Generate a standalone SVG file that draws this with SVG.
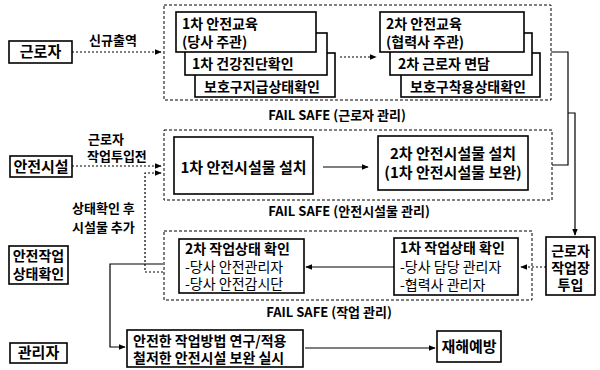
<svg xmlns="http://www.w3.org/2000/svg" width="600" height="370" viewBox="0 0 600 370">
<defs>
<marker id="ah" viewBox="0 0 10 10" refX="9" refY="5" markerWidth="6" markerHeight="6" orient="auto-start-reverse"><path d="M0,1 L10,5 L0,9 z" fill="#000"/></marker>
<style>
.bx{fill:#fff;stroke:#000;stroke-width:1.6}
.ct{fill:none;stroke:#000;stroke-width:1;stroke-dasharray:3,2}
.t{font-family:"Noto Sans CJK KR","Noto Sans",sans-serif;font-weight:700;fill:#000}
.r{font-family:"Noto Sans CJK KR","Noto Sans",sans-serif;font-weight:400;fill:#000}
.s13{font-size:13px}.s14{font-size:14px}.s15{font-size:15px}
.m{text-anchor:middle}
.ln{fill:none;stroke:#000;stroke-width:1.2}
.dl{fill:none;stroke:#000;stroke-width:1.2;stroke-dasharray:2,2}
</style>
</defs>
<rect width="600" height="370" fill="#fff"/>

<g id="connectors">
<path class="dl" d="M72,52 H161" marker-end="url(#ah)"/>
<path class="dl" d="M340,57 H376" marker-end="url(#ah)"/>
<path class="dl" d="M72,166 H161" marker-end="url(#ah)"/>
<path class="dl" d="M163,272 H145 V173 H161" marker-end="url(#ah)"/>
<path class="ln" d="M323,167 H368" marker-end="url(#ah)"/>
<path class="ln" d="M551,52 H568 V165 H552"/>
<path class="ln" d="M568,113 H575 V235" marker-end="url(#ah)"/>
<path class="dl" d="M546,267 H521" marker-end="url(#ah)"/>
<path class="ln" d="M394,267 H306" marker-end="url(#ah)"/>
<path class="ln" d="M163,264 H110 V347 H125" marker-end="url(#ah)"/>
<path class="ln" d="M305,348 H435" marker-end="url(#ah)"/>
</g>

<g id="container-worker">
<rect class="ct" x="164" y="5" width="387" height="95"/>
<text class="t s13 m" x="337" y="120">FAIL SAFE (근로자 관리)</text>
</g>
<g id="container-facility">
<rect class="ct" x="164" y="130" width="388" height="70"/>
<text class="t s13 m" x="349" y="216">FAIL SAFE (안전시설물 관리)</text>
</g>
<g id="container-work">
<rect class="ct" x="164" y="231" width="368" height="69"/>
<text class="t s13 m" x="329" y="317">FAIL SAFE (작업 관리)</text>
</g>

<g id="label-new">
<text class="t s13" x="89" y="45">신규출역</text>
</g>
<g id="label-before">
<text class="t s13" x="88" y="144">근로자</text>
<text class="t s13" x="87" y="161">작업투입전</text>
</g>
<g id="label-add">
<text class="t s13" x="72" y="213">상태확인 후</text>
<text class="t s13" x="72" y="232">시설물 추가</text>
</g>

<g id="worker">
<rect class="bx" x="9" y="41" width="63" height="22"/>
<text class="t s15 m" x="40.5" y="57">근로자</text>
</g>
<g id="facility">
<rect class="bx" x="10" y="156" width="62" height="21"/>
<text class="t s15 m" x="41" y="172">안전시설</text>
</g>
<g id="safe-check">
<rect class="bx" x="9" y="246" width="59" height="38"/>
<text class="t s14 m" x="38.5" y="261">안전작업</text>
<text class="t s14 m" x="38.5" y="279">상태확인</text>
</g>
<g id="manager">
<rect class="bx" x="10" y="343" width="57" height="20"/>
<text class="t s15 m" x="38.5" y="358">관리자</text>
</g>

<g id="ppe1">
<rect class="bx" x="195" y="53" width="140" height="44"/>
<text class="t s14" x="204" y="92">보호구지급상태확인</text>
</g>
<g id="health1">
<rect class="bx" x="185" y="33" width="142" height="42"/>
<text class="t s14" x="192" y="69">1차 건강진단확인</text>
</g>
<g id="edu1">
<rect class="bx" x="176" y="12" width="140" height="40"/>
<text class="t s14" x="182" y="29">1차 안전교육</text>
<text class="t s14" x="182" y="47">(당사 주관)</text>
</g>

<g id="ppe2">
<rect class="bx" x="401" y="53" width="139" height="44"/>
<text class="t s14" x="410" y="92">보호구착용상태확인</text>
</g>
<g id="interview2">
<rect class="bx" x="390" y="33" width="142" height="42"/>
<text class="t s14" x="398" y="69">2차 근로자 면담</text>
</g>
<g id="edu2">
<rect class="bx" x="380" y="12" width="144" height="40"/>
<text class="t s14" x="386" y="29">2차 안전교육</text>
<text class="t s14" x="386" y="47">(협력사 주관)</text>
</g>

<g id="fac1">
<rect class="bx" x="174" y="137" width="139" height="57"/>
<text class="t s15 m" x="243.5" y="173">1차 안전시설물 설치</text>
</g>
<g id="fac2">
<rect class="bx" x="378" y="136" width="150" height="54"/>
<text class="t s15 m" x="453" y="159">2차 안전시설물 설치</text>
<text class="t s15 m" x="453" y="178">(1차 안전시설물 보완)</text>
</g>

<g id="deploy">
<rect class="bx" x="546" y="237" width="49" height="58"/>
<text class="t s14 m" x="570.5" y="256">근로자</text>
<text class="t s14 m" x="570.5" y="273">작업장</text>
<text class="t s14 m" x="570.5" y="290">투입</text>
</g>

<g id="work1">
<rect class="bx" x="394" y="238" width="124" height="57"/>
<text class="t s14" x="400" y="253">1차 작업상태 확인</text>
<text class="r s14" x="400" y="272">-당사 담당 관리자</text>
<text class="r s14" x="400" y="290">-협력사 관리자</text>
</g>
<g id="work2">
<rect class="bx" x="179" y="239" width="125" height="54"/>
<text class="t s14" x="185" y="254">2차 작업상태 확인</text>
<text class="r s14" x="185" y="272">-당사 안전관리자</text>
<text class="r s14" x="185" y="289">-당사 안전감시단</text>
</g>

<g id="method">
<rect class="bx" x="127" y="330" width="176" height="37"/>
<text class="t s14" x="133" y="346">안전한 작업방법 연구/적용</text>
<text class="t s14" x="133" y="363">철저한 안전시설 보완 실시</text>
</g>
<g id="prevent">
<rect class="bx" x="437" y="331" width="64" height="31"/>
<text class="t s15 m" x="469" y="352">재해예방</text>
</g>
</svg>
